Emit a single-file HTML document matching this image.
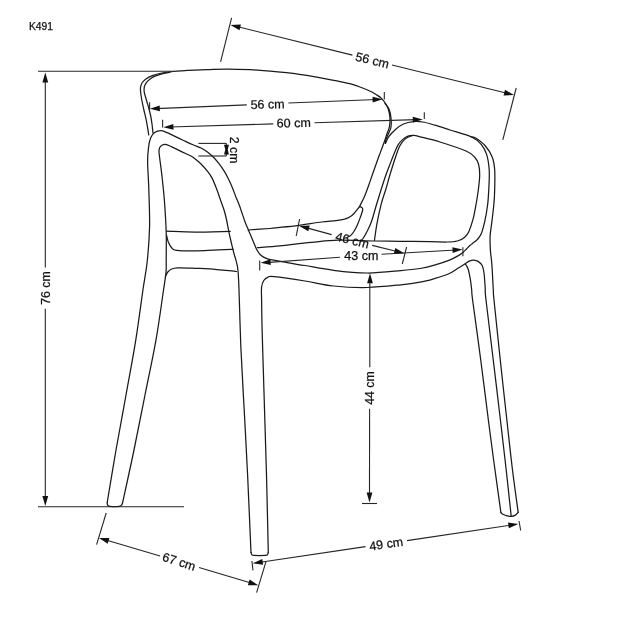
<!DOCTYPE html>
<html><head><meta charset="utf-8"><style>html,body{margin:0;padding:0;background:#fff;}svg{display:block;will-change:transform;}text{font-family:"Liberation Sans",sans-serif;fill:#111;stroke:#111;stroke-width:0.25px;}</style></head><body>
<svg width="625" height="625" viewBox="0 0 625 625">
<rect width="625" height="625" fill="#fff"/>
<g fill="none" stroke="#1a1a1a" stroke-width="1.25" stroke-linecap="round" stroke-linejoin="round">
<path d="M148.8,135C148.4,132.6 147.2,124.9 146.4,120.8C145.6,116.7 144.8,114 144,110.5C143.2,107 142.3,102.6 141.8,100C141.3,97.4 141.2,96.6 141,95C140.8,93.4 140.6,92 140.5,90.5C140.4,89 140.4,87.6 140.7,86.3C141,85 141.5,83.7 142.3,82.5C143.1,81.3 143.9,80.4 145.6,79.2C147.3,78 149.6,76.6 152.3,75.6C155,74.6 158.4,73.7 161.9,73C165.4,72.3 167.9,72 173.4,71.5C178.9,71 188.9,70.5 195,70.2C201.1,69.9 204.4,69.8 210,69.6C215.6,69.4 220.9,69.1 228.8,69.2C236.7,69.3 248,69.5 257.6,70.1C267.2,70.7 278.5,71.8 286.4,72.6C294.3,73.4 299.1,74.3 305,75.2C310.9,76.1 316.2,77.1 322,78.2C327.8,79.3 335.1,80.6 340,81.6C344.9,82.6 348.3,83.3 351.6,84.2C354.9,85.1 357.1,85.9 360,87C362.9,88.1 366.5,89.5 369.2,90.8C371.9,92 373.9,93.2 376,94.5C378.1,95.8 379.8,96.7 381.5,98.4C383.2,100.2 385.2,102.6 386.5,105C387.8,107.4 388.7,110.2 389.3,113C389.9,115.8 390.1,119.4 390,122C389.9,124.6 389.5,126.7 389,128.5C388.5,130.3 387.9,130.9 387.2,133C386.5,135.1 385.9,137.3 384.6,141C383.3,144.7 381.2,150.2 379.4,155C377.6,159.8 375.8,165 374,170C372.2,175 370.4,180.6 368.8,185C367.2,189.4 366.1,192.9 364.5,196.5C362.9,200.1 360.3,204.9 359.5,206.6"/>
<path d="M359.5,206.6C359.8,206.7 360.7,206.8 361.2,207.1C361.7,207.4 362.3,207.7 362.5,208.3C362.7,208.9 362.9,209.3 362.6,210.5C362.3,211.7 361.7,213.5 360.9,215.7C360.1,217.8 359.1,220.8 358,223.4C356.9,226 355.4,229 354.2,231C353,233 352,234.3 350.8,235.4C349.6,236.5 347.6,237.2 347,237.5"/>
<path d="M170,72.2C168.7,72.5 164.4,73.2 161.9,73.9C159.4,74.6 156.9,75.4 155,76.2C153.1,77 151.9,77.8 150.5,78.8C149.1,79.8 147.6,81 146.6,82.3C145.6,83.6 144.8,85 144.4,86.5C144,88 144,89.5 144.1,91C144.2,92.5 144.6,93.7 145.1,95.5C145.6,97.3 146.5,100.2 147,102C147.5,103.8 147.7,104.2 148.3,106.4C148.9,108.7 150,112.6 150.6,115.5C151.2,118.4 151.6,121.1 152,124C152.4,126.9 152.8,131.5 153,133"/>
<path d="M385,103.5C385.7,104.4 388,106.6 389,109C390,111.4 390.7,115 391,118C391.3,121 391.4,124.5 391,127C390.6,129.5 389.7,130.9 388.8,133C387.9,135.1 386.5,137.9 385.9,139.6C385.3,141.3 385.5,142.8 385.4,143.4"/>
<path d="M248.2,230C251.8,229.8 264.7,228.9 270,228.5C275.3,228.1 275.2,227.9 280,227.4C284.8,226.9 291.8,226.2 298.7,225.3C305.6,224.4 315.4,222.8 321.6,222C327.8,221.2 332.2,221.2 336,220.7C339.8,220.2 342.3,219.8 344.6,219.2C346.9,218.5 348.4,217.8 350,216.8C351.6,215.9 352.4,215.2 354,213.5C355.6,211.8 358.6,207.8 359.5,206.6"/>
<path d="M166.5,231.2C171.2,231.3 184.4,232.1 195,232.1C205.6,232.1 224.3,231.5 230.2,231.4"/>
<path d="M166.5,235.2C166.8,236.3 167.5,239.9 168.3,242C169.2,244.1 170.2,246.4 171.6,247.8C173,249.2 172.6,249.8 176.5,250.3C180.4,250.8 185.6,251.1 195,250.9C204.4,250.8 226.7,249.7 233,249.4"/>
<path d="M165.4,276.5C165.8,275.8 166.8,273.2 167.8,272C168.8,270.8 169.6,270 171.2,269.3C172.8,268.6 173.4,268.1 177.4,267.9C181.4,267.7 189.6,268.1 195,268.3C200.4,268.5 203.1,268.4 210,268.9C216.9,269.4 232.1,271.1 236.5,271.5"/>
<path d="M257.5,247.6C261.2,247.3 271.1,246.7 280,245.8C288.9,244.9 301.5,243.3 311.2,242.4C320.9,241.5 327.5,240.4 338,240.2C348.5,240 363.7,240.8 374,241C384.3,241.2 390.7,241.2 400,241.3C409.3,241.4 422.1,241.6 430,241.7C437.9,241.8 442.8,242.1 447.3,242C451.9,241.9 454.4,241.8 457.3,241C460.2,240.2 462.6,239 464.5,237.4C466.4,235.8 467.4,234.8 468.8,231.7C470.2,228.6 471.9,223.5 473.2,218.7C474.4,213.9 475.4,207.8 476.3,203C477.2,198.2 477.7,194.7 478.3,190C478.9,185.3 479.7,179.3 479.7,175C479.7,170.7 479.4,167 478.5,164C477.6,161 476.6,159.2 474.5,157C472.4,154.8 471.8,153.5 466,151C460.2,148.5 447.7,144.4 440,142C432.3,139.6 424.4,137.9 420,136.8C415.6,135.7 415.7,135.4 413.7,135.5C411.7,135.6 409.7,136.3 408,137.2C406.3,138 404.9,139.1 403.5,140.6C402.1,142.1 400.8,144.1 399.6,146.3C398.5,148.5 397.7,150.8 396.6,154C395.5,157.2 394,161.7 392.8,165.5C391.6,169.3 390.5,172.9 389.3,177C388.1,181.1 387,185.5 385.6,190C384.2,194.5 382.6,198.6 381.2,204.2C379.8,209.8 378.1,217.4 377,223.4C375.9,229.4 374.9,237.4 374.5,240.2"/>
<path d="M413.7,135.4C412.8,135.5 409.9,135.5 408,136.2C406.1,136.9 404.2,138.1 402.5,139.6C400.8,141.1 399.2,143 397.8,145.4C396.4,147.8 395.4,150.7 394,154C392.6,157.3 391,161.7 389.5,165.5C388,169.3 386.6,172.9 385.2,177C383.8,181.1 382.4,185.5 381,190C379.6,194.5 378.2,198.9 376.6,204.2C375,209.4 373.1,216.9 371.5,221.5C369.9,226.1 368.4,228.7 367,231.5C365.6,234.3 364,237 363,238.5C362,240 361.5,240 361.2,240.3"/>
<path d="M385.4,143.4C386,142.3 387.1,139 388.8,136.7C390.5,134.4 393.1,131.6 395.5,129.5C397.9,127.4 400.4,125.3 403.4,124C406.4,122.7 410.4,121.9 413.6,121.6C416.8,121.3 419,121.4 422.6,122C426.2,122.6 430.4,123.9 435,125.2C439.6,126.5 443.8,128 450,130C456.2,132 466.8,134.8 472,137.2C477.2,139.6 478.6,141.3 481,144.2C483.4,147.1 485.2,150.1 486.6,154.4C488,158.7 488.8,164 489.2,169.8C489.6,175.6 489.1,183.1 488.8,189C488.5,194.9 488.3,199.6 487.6,205C486.9,210.4 485.8,216.8 484.7,221.6C483.6,226.4 482.4,231 481.1,234C479.8,237 478.4,238.2 477,239.8C475.6,241.4 473.7,242.4 472.5,243.4C471.3,244.4 470.6,244.9 469.6,245.8C468.6,246.7 467.6,247.9 466.5,249C465.4,250.1 464.6,251.1 463.2,252.2C461.8,253.3 460.8,254.2 458.4,255.6C456,257 452.8,258.8 448.8,260.4C444.8,262 439.2,263.8 434.4,265.2C429.6,266.6 425.6,267.6 420,268.5C414.4,269.4 409.6,269.9 400.8,270.6C392,271.4 378.4,273.1 367.2,273C356,272.9 344,271.6 333.6,270.3C323.2,269.1 312.3,266.7 305,265.5C297.7,264.3 295,264.1 290,263.2C285,262.3 278.7,261.1 275,260.4C271.3,259.7 269.9,259.7 267.6,258.9C265.4,258.1 263.2,257.2 261.5,255.8C259.8,254.4 258.5,252.8 257.2,250.5C255.9,248.2 255,245.5 253.5,242C252,238.5 249.7,233 248.2,229.5C246.7,226 246.1,224.9 244.7,221C243.3,217.1 241.1,210.1 239.6,206C238.1,201.9 237,199.7 235.8,196.7C234.6,193.7 233.7,190.9 232.5,188C231.3,185.1 230.1,182.3 228.7,179.5C227.3,176.7 225.9,173.9 224.2,171.2C222.5,168.5 220.5,165.6 218.6,163.2C216.7,160.8 214.9,158.7 213,156.8C211.1,154.9 209.4,153.5 207.4,152C205.4,150.5 203.4,149.2 201,148C198.6,146.8 196.2,146.2 193,144.8C189.8,143.4 186.3,141.7 182,139.7C177.7,137.7 170.5,134.1 167,132.6C163.5,131.1 162.9,130.6 160.8,130.6C158.7,130.6 156.3,131.4 154.6,132.6C152.9,133.8 151.6,135.6 150.6,138C149.6,140.4 149.1,143.1 148.6,147C148.1,150.9 147.6,154.6 147.6,161.6C147.6,168.6 148.5,178 148.8,188.8C149.1,199.6 149.8,214.2 149.6,226.2C149.3,238.2 148.4,250.1 147.3,260.7C146.2,271.2 144.9,276.3 143,289.5C141.1,302.7 138.6,322.3 135.8,339.9C133,357.5 129.3,376.6 126,395C122.7,413.4 119.1,432.1 116,450C112.9,467.9 108.7,493.8 107.2,502.5"/>
<path d="M107.2,502.5C107.3,502.9 107.1,504.4 107.6,505C108.1,505.6 108.1,506.2 110,506.4C111.9,506.6 117.1,506.6 119,506.4C120.9,506.2 121,505.6 121.6,505C122.2,504.4 122.4,503 122.6,502.6"/>
<path d="M122.6,502.6C124.5,493.8 130.3,467.9 134,450C137.7,432.1 141.3,413.4 145,395C148.7,376.6 152.9,357.5 156,339.9C159.1,322.3 161.9,300.8 163.6,289.5C165.3,278.2 165.6,277 166,272.2C166.4,267.4 166.2,267.4 166.2,260.7C166.2,254 166.5,241.6 166.2,232C165.9,222.4 165.2,211.9 164.6,203.2C164,194.5 163.1,186.9 162.4,180C161.7,173.1 160.8,166.7 160.2,162C159.6,157.3 159.1,154.4 159,152C158.9,149.6 159.1,148.9 159.6,147.8C160.1,146.7 161,145.8 162,145.2C163,144.6 164,144.2 165.5,144.4C167,144.6 167.9,145.1 171.2,146.6C174.4,148.1 181.4,151.4 185,153.2C188.6,155 190.3,155.4 193,157.2C195.7,159 198.6,161.7 201,164C203.4,166.3 205.5,168.8 207.4,171.2C209.3,173.6 210.6,175.3 212.2,178.4C213.8,181.5 215.6,186.4 217,190C218.4,193.6 219.3,196.6 220.5,200C221.7,203.4 223.2,207.2 224.2,210.5C225.2,213.8 225.8,216.6 226.6,220C227.3,223.4 228,227.7 228.7,231C229.4,234.3 230,237.2 230.7,240C231.3,242.8 232,245.5 232.6,248C233.2,250.5 233.8,252.7 234.4,255C235,257.3 235.7,258.2 236.4,262C237.1,265.8 237.7,263.3 238.5,278C239.3,292.7 240,327.7 241,350C242,372.3 243.2,391.2 244.3,412C245.4,432.8 246.5,451.6 247.6,475C248.7,498.4 250.4,539.6 251,552.5"/>
<path d="M251,552.5C251.1,552.9 251.3,554.1 251.8,554.6C252.3,555.1 251.8,555.3 254,555.4C256.2,555.5 263.1,555.5 265.3,555.4C267.6,555.3 267,555.1 267.5,554.6C268,554.1 268.2,552.9 268.3,552.5"/>
<path d="M268.3,552.5C268,539.6 267.1,498.4 266.5,475C265.9,451.6 265.2,432.8 264.6,412C264,391.2 263.1,364.5 262.7,350C262.3,335.5 262.2,333.3 262,325C261.8,316.7 261.7,306.3 261.6,300C261.5,293.7 261.2,290.2 261.6,287C262,283.8 262.8,282.1 263.8,280.5C264.8,278.9 266,277.9 267.7,277.3C269.4,276.7 267.8,276 274,276.6C280.2,277.2 295.1,279.4 305,281C314.9,282.6 323.2,284.9 333.6,286C344,287.1 356,287.7 367.2,287.5C378.4,287.3 392,285.7 400.8,284.8C409.6,283.9 414.4,283.2 420,282.2C425.6,281.2 429.6,280 434.4,278.6C439.2,277.2 444.8,275.6 448.8,273.8C452.8,272 455.7,269.7 458.4,268C461.1,266.3 463.2,264.9 465.1,263.7C467,262.5 468.5,261.5 469.9,260.9C471.3,260.3 472.3,260.1 473.7,260.2C475.1,260.3 477,260.7 478.4,261.6C479.8,262.5 481.3,263.7 482.2,265.6C483.1,267.5 483.5,269.3 484,273C484.5,276.7 484.9,283.5 485.2,288C485.5,292.5 484.6,287.7 486,300C487.4,312.3 491,341.2 493.5,362C496,382.8 498.9,407 501,425C503.1,443 504.5,454.8 506.2,470C507.9,485.2 510.4,508.6 511.2,516.3"/>
<path d="M465.3,264C465.8,264.8 467.3,266.5 468.1,269C468.9,271.5 469.7,275.6 470.3,279.1C470.9,282.6 471.3,286.5 471.7,290C472.1,293.5 471.1,288 472.6,300C474.2,312 478.3,341.2 481,362C483.7,382.8 486.7,407 489,425C491.3,443 493,455.4 495,470C497,484.6 499.9,505.4 500.9,512.5"/>
<path d="M500.9,512.5C501.2,512.8 501.8,513.8 502.8,514.3C503.8,514.8 505.6,515.4 507,515.8C508.4,516.1 509.9,516.5 511.2,516.4C512.5,516.3 513.8,516.1 515,515.4C516.2,514.7 517.7,512.8 518.2,512.3"/>
<path d="M518.2,512.3C517.2,505.2 514.3,484.6 512.5,470C510.7,455.4 509.4,443 507.4,425C505.4,407 502.7,382.8 500.5,362C498.3,341.2 495.2,312 494,300C492.8,288 493.7,295.9 493.3,290C492.9,284.1 492.4,271.3 491.9,264.7C491.4,258.1 490.7,255.2 490.4,250.4C490.1,245.6 489.9,240.8 490.1,236C490.4,231.2 491.3,226.8 491.9,221.6C492.5,216.4 493.3,210.4 493.8,205C494.3,199.6 494.6,194.8 494.7,189C494.8,183.2 495.1,175.3 494.7,170C494.3,164.7 493.8,161.1 492.2,157C490.6,152.9 487.7,148.6 485,145.5C482.3,142.4 478.3,139.8 476,138.3C473.7,136.9 471.8,137.1 471,136.8"/>
</g>
<g fill="none" stroke="#262626" stroke-width="1.1" stroke-linecap="butt">
<path d="M38.0,71.3L175.0,71.3"/>
<path d="M45.3,80.0L45.3,267.5"/>
<path d="M45.3,308.8L45.3,498.0"/>
<path d="M38.0,506.7L184.0,506.7"/>
<path d="M231.6,17.8L220.6,61.8"/>
<path d="M516.2,88.0L502.8,139.8"/>
<path d="M239.0,27.0L352.4,55.1"/>
<path d="M392.0,65.0L506.0,93.0"/>
<path d="M156.0,108.6L246.8,104.9"/>
<path d="M288.4,103.0L377.0,99.5"/>
<path d="M149.6,102.2L149.6,109.8"/>
<path d="M384.3,92.0L384.3,99.4"/>
<path d="M170.0,127.0L273.2,123.9"/>
<path d="M314.5,122.8L416.0,119.6"/>
<path d="M162.6,119.8L162.6,127.4"/>
<path d="M424.3,112.2L424.3,119.0"/>
<path d="M198.4,143.4L226.3,143.4"/>
<path d="M198.4,156.0L226.3,156.0"/>
<path d="M299.6,219.0L296.2,236.0"/>
<path d="M306.0,227.6L331.6,234.6"/>
<path d="M372.2,245.4L397.0,251.5"/>
<path d="M406.6,247.0L402.3,264.0"/>
<path d="M259.7,260.6L259.7,270.4"/>
<path d="M266.0,262.6L339.9,257.2"/>
<path d="M381.5,254.2L456.0,250.0"/>
<path d="M462.9,247.3L462.9,256.3"/>
<path d="M369.8,283.0L369.8,367.3"/>
<path d="M369.6,408.8L369.5,493.0"/>
<path d="M362.0,503.5L377.0,503.5"/>
<path d="M106.2,513.0L96.6,544.6"/>
<path d="M265.9,561.8L256.6,592.6"/>
<path d="M106.0,540.0L160.0,556.0"/>
<path d="M199.0,567.5L251.0,583.0"/>
<path d="M251.9,561.0L253.0,570.4"/>
<path d="M262.0,562.0L365.5,546.6"/>
<path d="M407.0,540.6L511.0,525.1"/>
<path d="M519.0,521.0L520.7,530.5"/>
</g>
<g fill="#111" stroke="none">
<path d="M45.3,72.6L48.2,82.6L42.4,82.6Z"/>
<path d="M45.3,506.0L42.4,496.0L48.2,496.0Z"/>
<path d="M230.5,25.0L240.9,24.6L239.5,30.3Z"/>
<path d="M514.0,95.0L503.6,95.4L505.0,89.8Z"/>
<path d="M149.8,108.8L159.7,105.5L159.9,111.3Z"/>
<path d="M382.6,99.3L372.7,102.6L372.5,96.8Z"/>
<path d="M163.4,127.2L173.3,124.0L173.5,129.8Z"/>
<path d="M422.8,119.4L412.9,122.6L412.7,116.8Z"/>
<path d="M299.3,225.9L309.7,225.6L308.3,231.2Z"/>
<path d="M404.3,253.3L393.9,253.7L395.3,248.0Z"/>
<path d="M260.6,262.7L270.4,259.2L270.8,265.0Z"/>
<path d="M462.5,249.6L452.7,253.1L452.4,247.3Z"/>
<path d="M370.0,273.2L372.9,283.2L367.1,283.2Z"/>
<path d="M369.5,502.6L366.6,492.6L372.4,492.6Z"/>
<path d="M99.0,538.0L109.4,538.1L107.7,543.7Z"/>
<path d="M258.3,585.3L247.9,585.2L249.6,579.6Z"/>
<path d="M252.8,563.3L262.3,559.0L263.1,564.7Z"/>
<path d="M518.3,524.0L508.8,528.3L508.0,522.6Z"/>
<path d="M224,144.8L228.9,144.8L227.8,149.4L228.9,154.4L224,154.4L225.3,149.4Z"/><rect x="225.8" y="143.4" width="1" height="12.5"/>
</g>
<text x="29.0" y="30.2" font-size="10.3">K491</text>
<text x="372.3" y="60.6" font-size="12.5" text-anchor="middle" dominant-baseline="central" transform="rotate(13.9 372.3 60.6)">56 cm</text>
<text x="267.6" y="104.6" font-size="12.5" text-anchor="middle" dominant-baseline="central" transform="rotate(-1.2 267.6 104.6)">56 cm</text>
<text x="293.8" y="123.2" font-size="12.5" text-anchor="middle" dominant-baseline="central" transform="rotate(-1.2 293.8 123.2)">60 cm</text>
<text x="234.4" y="150.1" font-size="12.3" text-anchor="middle" dominant-baseline="central" transform="rotate(90.0 234.4 150.1)">2 cm</text>
<text x="352.2" y="240.5" font-size="12.5" text-anchor="middle" dominant-baseline="central" transform="rotate(14.0 352.2 240.5)">46 cm</text>
<text x="361.3" y="255.9" font-size="12.5" text-anchor="middle" dominant-baseline="central">43 cm</text>
<text x="45.6" y="288.0" font-size="12.3" text-anchor="middle" dominant-baseline="central" transform="rotate(-90.0 45.6 288.0)">76 cm</text>
<text x="369.6" y="388.0" font-size="12.3" text-anchor="middle" dominant-baseline="central" transform="rotate(-90.0 369.6 388.0)">44 cm</text>
<text x="179.0" y="561.9" font-size="12.5" text-anchor="middle" dominant-baseline="central" transform="rotate(17.5 179.0 561.9)">67 cm</text>
<text x="386.2" y="544.2" font-size="12.5" text-anchor="middle" dominant-baseline="central" transform="rotate(-8.4 386.2 544.2)">49 cm</text>
</svg>
</body></html>
